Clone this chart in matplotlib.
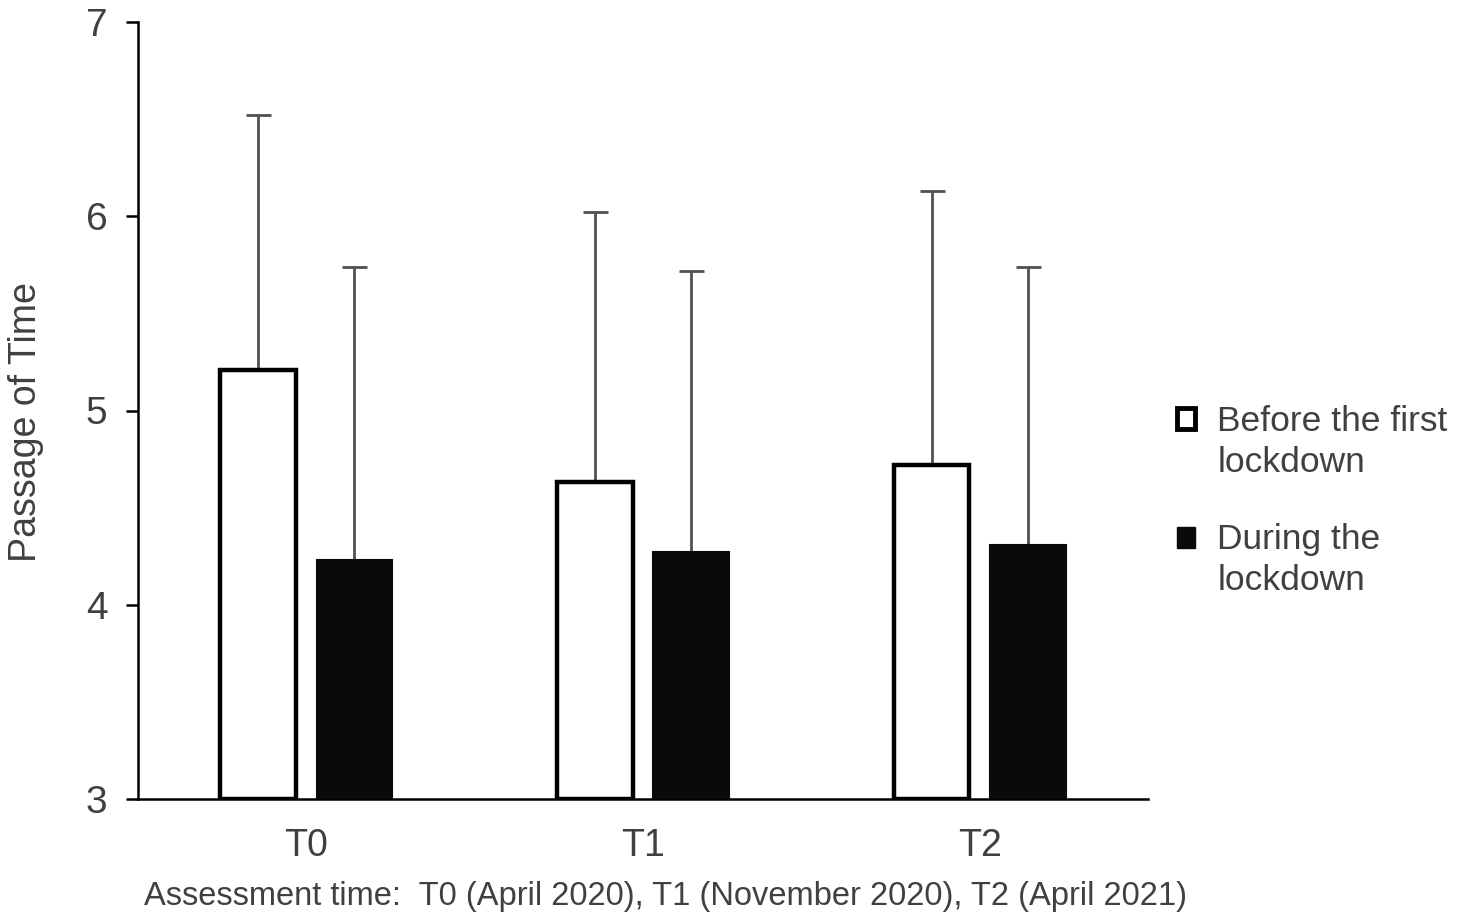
import matplotlib
matplotlib.use("Agg")
import matplotlib.pyplot as plt
import numpy as np
from matplotlib.patches import Patch, Rectangle
from matplotlib.legend_handler import HandlerPatch

categories = ["T0", "T1", "T2"]
before_means = [5.21, 4.63, 4.72]
before_err = [1.31, 1.39, 1.41]
during_means = [4.23, 4.27, 4.31]
during_err = [1.51, 1.45, 1.43]
series_labels = ["Before the first\nlockdown", "During the\nlockdown"]

plt.rcParams['font.family'] = ['Liberation Sans', 'DejaVu Sans']
txt = '#404040'

fig = plt.figure(figsize=(14.66, 9.23), dpi=100)
ax = fig.add_axes([138/1466, 1-799/923, (1148-138)/1466, (799-22)/923])

x = np.arange(len(categories)) + 0.5
w = 0.225
off = 0.143
ax.bar(x - off, [m - 3 for m in before_means], w, bottom=3, color='white', edgecolor='black', linewidth=3.2, zorder=3)
ax.bar(x + off, [m - 3 for m in during_means], w, bottom=3, color='#0a0a0a', edgecolor='#0a0a0a', linewidth=1.5, zorder=3)
ax.errorbar(x - off, before_means, yerr=[np.zeros(3), before_err], fmt='none', ecolor='#505050', elinewidth=2, capsize=9, capthick=2, zorder=2)
ax.errorbar(x + off, during_means, yerr=[np.zeros(3), during_err], fmt='none', ecolor='#505050', elinewidth=2, capsize=9, capthick=2, zorder=2)

ax.set_xlim(0, 3)
ax.set_ylim(3, 7)
ax.set_yticks([3, 4, 5, 6, 7])
ax.set_xticks(x)
ax.set_xticklabels(categories)
ax.tick_params(axis='y', length=9, width=1.8, colors='black', labelcolor=txt, labelsize=28, pad=13)
ax.tick_params(axis='x', length=0, labelcolor=txt, labelsize=27, pad=21)
for s in ['top', 'right']:
    ax.spines[s].set_visible(False)
for s in ['left', 'bottom']:
    ax.spines[s].set_linewidth(1.8)

ax.set_xlabel("Assessment time:  T0 (April 2020), T1 (November 2020), T2 (April 2021)", fontsize=23.5, color=txt)
ax.set_ylabel("Passage of Time", fontsize=27, color=txt)
ax.xaxis.set_label_coords(0.522, -0.106)
ax.yaxis.set_label_coords(-0.093, 0.485)


def top_aligned(legend, orig_handle, xdescent, ydescent, width, height, fontsize):
    return Rectangle((-xdescent, -ydescent + 0.66 * fontsize), width, height)


handles = [Patch(facecolor='white', edgecolor='black', linewidth=3.5),
           Patch(facecolor='#0a0a0a', edgecolor='#0a0a0a', linewidth=1)]
leg = fig.legend(handles, series_labels, loc='center left', bbox_to_anchor=(1177/1466, 1-501/923),
                 frameon=False, fontsize=25.5, handlelength=0.52, handleheight=0.52,
                 handletextpad=0.62, labelspacing=1.25, labelcolor=txt, borderaxespad=0, borderpad=0,
                 handler_map={Patch: HandlerPatch(patch_func=top_aligned)})
for t in leg.get_texts():
    t.set_linespacing(1.32)

fig.savefig("out.png", dpi=100)
